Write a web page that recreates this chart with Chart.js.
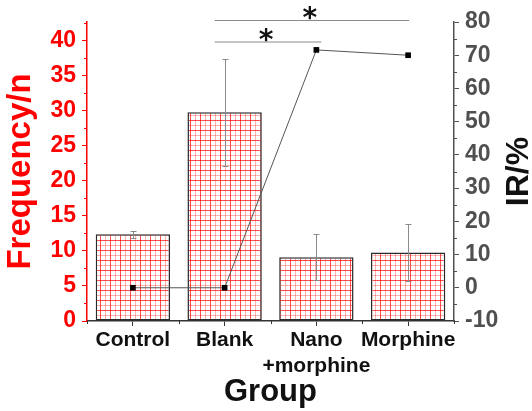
<!DOCTYPE html>
<html>
<head>
<meta charset="utf-8">
<script src="https://cdn.jsdelivr.net/npm/chart.js@4"></script>
<style>
  html, body { margin: 0; padding: 0; background: #fff; }
</style>
</head>
<body>
<canvas id="chart" width="532" height="411"></canvas>
<script>
const groups = ["Control", "Blank", ["Nano", "+morphine"], "Morphine"];
const frequency = [12.4, 29.8, 9.1, 9.8];
const frequencyErr = [0.5, 7.6, 3.3, 4.1];
const irValues = [0, 0, 71.6, 70];
const leftTicks = [0, 5, 10, 15, 20, 25, 30, 35, 40];
const rightTicks = [-10, 0, 10, 20, 30, 40, 50, 60, 70, 80];
// significance brackets: [from group, to group, line y (px), star label]
const brackets = [
  [1, 3, 20, "*"],
  [1, 2, 41.5, "*"],
];

const FONT = '"Liberation Sans", Arial, sans-serif';

function gridPattern() {
  const c = document.createElement("canvas");
  c.width = 10;
  c.height = 10;
  const g = c.getContext("2d");
  g.fillStyle = "#fff";
  g.fillRect(0, 0, 10, 10);
  g.lineWidth = 1;
  g.strokeStyle = "rgba(255, 0, 0, 0.7)";
  g.beginPath();
  g.moveTo(0.5, 0); g.lineTo(0.5, 10);
  g.moveTo(0, 0.5); g.lineTo(10, 0.5);
  g.stroke();
  g.strokeStyle = "rgba(255, 0, 0, 0.3)";
  g.beginPath();
  g.moveTo(5.5, 0); g.lineTo(5.5, 10);
  g.moveTo(0, 5.5); g.lineTo(10, 5.5);
  g.stroke();
  return g.createPattern(c, "repeat");
}

const errorBars = {
  id: "errorBars",
  afterDatasetDraw(chart, args) {
    if (args.index !== 1) return;
    const ctx = chart.ctx;
    const y = chart.scales.y;
    ctx.save();
    ctx.strokeStyle = "#8a8a8a";
    ctx.lineWidth = 1;
    args.meta.data.forEach((bar, i) => {
      const hi = Math.round(y.getPixelForValue(frequency[i] + frequencyErr[i])) + 0.5;
      const lo = Math.round(y.getPixelForValue(frequency[i] - frequencyErr[i])) + 0.5;
      const x = Math.round(bar.x) + 0.5;
      ctx.beginPath();
      ctx.moveTo(x, hi); ctx.lineTo(x, lo);
      ctx.moveTo(x - 3, hi); ctx.lineTo(x + 3, hi);
      ctx.moveTo(x - 3, lo); ctx.lineTo(x + 3, lo);
      ctx.stroke();
    });
    ctx.restore();
  },
};

const extras = {
  id: "extras",
  afterDraw(chart) {
    const ctx = chart.ctx;
    const { x, y, y1 } = chart.scales;
    const area = chart.chartArea;
    ctx.save();
    ctx.lineWidth = 1;

    // minor ticks
    ctx.strokeStyle = "red";
    ctx.beginPath();
    for (let v = 2.5; v < 42.7; v += 5) {
      const p = Math.round(y.getPixelForValue(v)) + 0.5;
      ctx.moveTo(area.left - 3, p); ctx.lineTo(area.left, p);
    }
    ctx.stroke();
    ctx.strokeStyle = "#505050";
    ctx.beginPath();
    for (let v = -5; v < 80; v += 10) {
      const p = Math.round(y1.getPixelForValue(v)) + 0.5;
      ctx.moveTo(area.right, p); ctx.lineTo(area.right + 3, p);
    }
    ctx.stroke();
    ctx.strokeStyle = "#333";
    ctx.beginPath();
    for (let i = 0; i <= groups.length; i++) {
      const p = Math.round(x.getPixelForValue(i - 0.5)) + 0.5;
      ctx.moveTo(p, area.bottom); ctx.lineTo(p, area.bottom + 3);
    }
    ctx.stroke();

    // significance brackets
    ctx.strokeStyle = "#8a8a8a";
    ctx.fillStyle = "#111";
    ctx.font = 'bold 28px "DejaVu Sans", sans-serif';
    ctx.textAlign = "center";
    ctx.textBaseline = "alphabetic";
    brackets.forEach(([a, b, ly, label]) => {
      const x0 = x.getPixelForValue(a) - 10;
      const x1 = x.getPixelForValue(b) + (b === 3 ? 1 : 5);
      ctx.beginPath();
      ctx.moveTo(x0, ly + 0.5); ctx.lineTo(x1, ly + 0.5);
      ctx.stroke();
      const m = ctx.measureText(label);
      const cy = ly - 7;
      const base = cy - (m.actualBoundingBoxDescent - m.actualBoundingBoxAscent) / 2;
      ctx.fillText(label, (x0 + x1) / 2 - 2, base);
    });

    // right axis title, reading bottom to top
    ctx.font = "bold 32px " + FONT;
    ctx.fillStyle = "#111";
    ctx.translate(528, (area.top + area.bottom) / 2);
    ctx.rotate(-Math.PI / 2);
    ctx.textAlign = "center";
    ctx.fillText("IR/%", 0, 0);
    ctx.restore();
  },
};

Chart.defaults.font.family = FONT;

new Chart(document.getElementById("chart"), {
  data: {
    labels: groups,
    datasets: [
      {
        type: "line",
        order: 0,
        yAxisID: "y1",
        data: irValues,
        borderColor: "#555",
        borderWidth: 1,
        pointStyle: "rect",
        pointRadius: 4,
        pointBackgroundColor: "#000",
        pointBorderColor: "#000",
        pointBorderWidth: 0,
      },
      {
        type: "bar",
        order: 1,
        yAxisID: "y",
        data: frequency,
        backgroundColor: gridPattern(),
        borderColor: "#2a2a2a",
        borderWidth: 1.5,
        borderSkipped: false,
        barPercentage: 0.81,
        categoryPercentage: 1,
      },
    ],
  },
  options: {
    responsive: false,
    animation: false,
    devicePixelRatio: 1,
    layout: { padding: { top: 22, left: 0, right: 0, bottom: 0 } },
    plugins: {
      legend: { display: false },
      tooltip: { enabled: false },
    },
    scales: {
      x: {
        offset: true,
        afterFit: (s) => { s.height = 90; },
        grid: {
          display: true,
          offset: false,
          drawOnChartArea: false,
          drawTicks: true,
          tickLength: 5,
          color: "#333",
        },
        border: { color: "#333", width: 1.5 },
        ticks: {
          color: "#111",
          padding: 1,
          maxRotation: 0,
          autoSkip: false,
          font: { size: 21, weight: "bold", lineHeight: 1.24 },
        },
        title: {
          display: true,
          text: "Group",
          color: "#111",
          padding: { top: 0, bottom: 0 },
          font: { size: 31, weight: "bold", lineHeight: 1.2 },
        },
      },
      y: {
        position: "left",
        min: 0,
        max: 42.7,
        afterFit: (s) => { s.width = 87; },
        afterBuildTicks: (s) => { s.ticks = leftTicks.map((v) => ({ value: v })); },
        grid: {
          drawOnChartArea: false,
          drawTicks: true,
          tickLength: 5,
          color: "red",
        },
        border: { color: "red", width: 1.5 },
        ticks: {
          color: "red",
          padding: 6,
          font: { size: 23, weight: "bold" },
        },
        title: {
          display: true,
          text: "Frequency/n",
          color: "red",
          padding: { top: 1, bottom: 0 },
          font: { size: 33, weight: "bold", lineHeight: 1.2 },
        },
      },
      y1: {
        position: "right",
        min: -10,
        max: 80,
        afterFit: (s) => { s.width = 78; },
        afterBuildTicks: (s) => { s.ticks = rightTicks.map((v) => ({ value: v })); },
        grid: {
          drawOnChartArea: false,
          drawTicks: true,
          tickLength: 5,
          color: "#505050",
        },
        border: { color: "#505050", width: 1.5 },
        ticks: {
          color: "#505050",
          padding: 6,
          font: { size: 23, weight: "bold" },
        },
      },
    },
  },
  plugins: [errorBars, extras],
});
</script>
</body>
</html>
